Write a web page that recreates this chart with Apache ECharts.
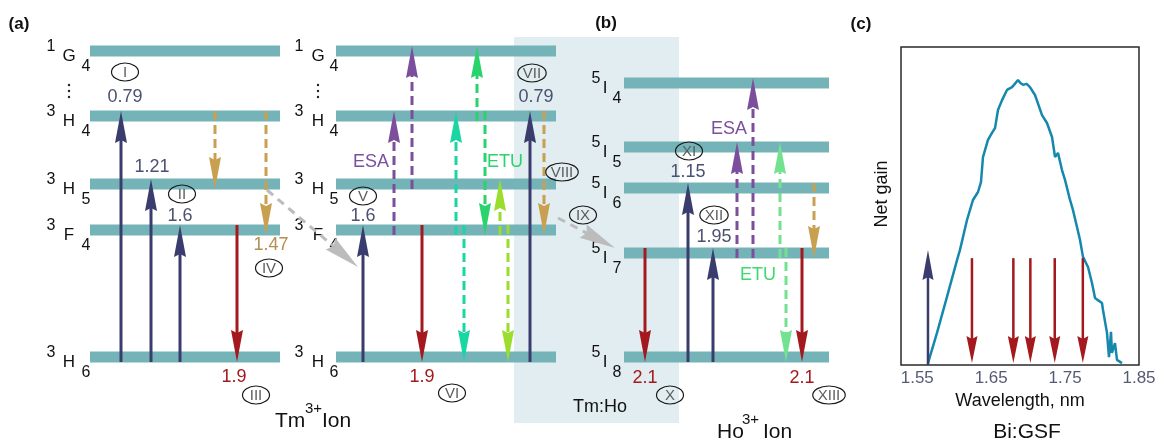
<!DOCTYPE html>
<html>
<head>
<meta charset="utf-8">
<script src="https://cdn.jsdelivr.net/npm/echarts@6/dist/echarts.min.js"></script>
<style>
  html, body { margin: 0; padding: 0; background: #ffffff; }
  #chart { width: 1164px; height: 442px; }
</style>
</head>
<body>
<div id="chart"></div>
<script>
// ---------------- Data ----------------
// Energy levels, schematic heights above the ground state (diagram units)
const tmTerms = ['3H6', '3F4', '3H5', '3H4', '1G4'];
const tmHeights = [0, 127, 173, 241, 306];
const hoTerms = ['5I8', '5I7', '5I6', '5I5', '5I4'];
const hoHeights = [0, 104, 169, 210, 274];

// Transitions: [slot on the diagram axis, ion, from level, to level, process]
const transitions = [
  [121, 'Tm', '3H6', '3H4', 'pump'],
  [151, 'Tm', '3H6', '3H5', 'pump'],
  [180, 'Tm', '3H6', '3F4', 'pump'],
  [215, 'Tm', '3H4', '3H5', 'relax'],
  [237, 'Tm', '3F4', '3H6', 'emit'],
  [266, 'Tm', '3H4', '3F4', 'relax'],
  [363, 'Tm', '3H6', '3F4', 'pump'],
  [394, 'Tm', '3F4', '3H4', 'esa'],
  [412, 'Tm', '3H5', '1G4', 'esa'],
  [422, 'Tm', '3F4', '3H6', 'emit'],
  [456, 'Tm', '3F4', '3H4', 'etuA'],
  [464, 'Tm', '3F4', '3H6', 'etuA'],
  [477, 'Tm', '3H4', '1G4', 'etuB'],
  [485, 'Tm', '3H4', '3F4', 'etuB'],
  [500, 'Tm', '3F4', '3H5', 'etuC'],
  [508, 'Tm', '3F4', '3H6', 'etuC'],
  [530, 'Tm', '3H6', '3H4', 'pump'],
  [544, 'Tm', '3H4', '3F4', 'relax'],
  [645, 'Ho', '5I7', '5I8', 'emit'],
  [688, 'Ho', '5I8', '5I6', 'pump'],
  [713, 'Ho', '5I8', '5I7', 'pump'],
  [737, 'Ho', '5I7', '5I5', 'esa'],
  [753, 'Ho', '5I7', '5I4', 'esa'],
  [780, 'Ho', '5I7', '5I5', 'etuHo'],
  [786, 'Ho', '5I7', '5I8', 'etuHo'],
  [802, 'Ho', '5I7', '5I8', 'emit'],
  [814, 'Ho', '5I6', '5I7', 'relax']
];

// Energy transfer between ions: [x start, height start, x end, height end]
const transfers = [
  [267, 167, 358, 90],
  [558, 139, 615, 109]
];

// Transition wavelengths (µm): [x, height, text, process]
const wavelengthNotes = [
  [125, 260, '0.79', 'pump'],
  [152, 190, '1.21', 'pump'],
  [180, 141, '1.6', 'pump'],
  [234, -20, '1.9', 'emit'],
  [271, 112, '1.47', 'relax'],
  [363, 141, '1.6', 'pump'],
  [422, -20, '1.9', 'emit'],
  [536, 260, '0.79', 'pump'],
  [645, -21, '2.1', 'emit'],
  [688, 185, '1.15', 'pump'],
  [714, 120, '1.95', 'pump'],
  [802, -21, '2.1', 'emit']
];

// Process names: [x, height, text, process]
const processNotes = [
  [371, 195, 'ESA', 'esa'],
  [505, 195, 'ETU', 'etuB'],
  [729, 228, 'ESA', 'esa'],
  [758, 82, 'ETU', 'etuHoText'],
  [600, -50, 'Tm:Ho', 'plain']
];

// Step numbers: [x, height, numeral]
const stepMarks = [
  [125, 285, 'I'], [182, 163, 'II'], [256, -38, 'III'], [269, 89, 'IV'],
  [363, 161, 'V'], [452, -36, 'VI'], [532, 284, 'VII'], [562, 185, 'VIII'],
  [583, 142, 'IX'], [670, -38, 'X'], [689, 206, 'XI'], [714, 142, 'XII'],
  [829, -38, 'XIII']
];

// Bi:GSF net gain spectrum
const gainWavelength = [1.5645, 1.5767, 1.5902, 1.6038, 1.6078, 1.6173, 1.6254, 1.6322, 1.6362, 1.6389,
  1.6457, 1.6511, 1.6552, 1.6592, 1.6647, 1.6714, 1.6782, 1.6820, 1.6863, 1.6900, 1.6931, 1.6980, 1.7025,
  1.7093, 1.7188, 1.7255, 1.7323, 1.7364, 1.7404, 1.7458, 1.7499, 1.7567, 1.7607, 1.7661, 1.7702,
  1.7742, 1.7810, 1.7864, 1.7905, 1.7945, 1.7999, 1.8013, 1.8067, 1.8094, 1.8121, 1.8134, 1.8175,
  1.8202, 1.8270];
const gainValue = [0.006, 0.101, 0.214, 0.330, 0.362, 0.456, 0.519, 0.544, 0.575, 0.654,
  0.708, 0.730, 0.745, 0.802, 0.833, 0.865, 0.874, 0.884, 0.896, 0.886, 0.881, 0.884, 0.874,
  0.849, 0.786, 0.761, 0.717, 0.654, 0.667, 0.613, 0.582, 0.519, 0.487, 0.434, 0.393,
  0.340, 0.308, 0.258, 0.211, 0.204, 0.195, 0.173, 0.101, 0.025, 0.104, 0.038, 0.069,
  0.016, 0.006];
const wavelengthTicks = [1.55, 1.65, 1.75, 1.85];
// Pump and signal lines on the spectrum: wavelength and arrow height (gain units)
const pumpLines = [1.5645];
const pumpTop = [0.362];
const signalLines = [1.624, 1.680, 1.703, 1.736, 1.774];
const signalTop = [0.336, 0.336, 0.336, 0.336, 0.336];

// ---------------- Layout & style ----------------
const FONT = '"Liberation Sans", Arial, Helvetica, sans-serif';
const BAR_H = 11;
const BAR_COLOR = '#74b3b7';
const levelColumns = [['Tm', 90, 280], ['Tm', 336, 556], ['Ho', 624, 829]];
const termLabelDx = [[-39, -21, -4], [-37, -18, -2], [-28, -19, -7]];
const shadeBox = [514, 679, 320, -66];

const procColor = {
  pump: '#3a3c6d',
  emit: '#a3191d',
  relax: '#c9a04f',
  esa: '#7c4f9d',
  etuA: '#1ad6a3',
  etuB: '#28d46b',
  etuC: '#9bdd2d',
  etuHo: '#72e28f',
  etuHoText: '#3ed970',
  plain: '#111111'
};
const noteColor = { pump: '#4b5170', emit: '#a3191d', relax: '#b48f4f' };
const dashedProc = { relax: 1, esa: 1, etuA: 1, etuB: 1, etuC: 1, etuHo: 1 };

function heightOf(ion, term) {
  const terms = ion === 'Tm' ? tmTerms : hoTerms;
  const hs = ion === 'Tm' ? tmHeights : hoHeights;
  return hs[terms.indexOf(term)];
}

const levelRows = [];
levelColumns.forEach(function (col, ci) {
  const terms = col[0] === 'Tm' ? tmTerms : hoTerms;
  terms.forEach(function (t) {
    levelRows.push({ col: ci, term: t, x0: col[1], x1: col[2], h: heightOf(col[0], t) });
  });
});

const measureCtx = document.createElement('canvas').getContext('2d');
function textWidth(t, font) { measureCtx.font = font; return measureCtx.measureText(t).width; }

function arrowParts(p0, p1, color, o) {
  const dx = p1[0] - p0[0], dy = p1[1] - p0[1];
  const len = Math.hypot(dx, dy);
  const ux = dx / len, uy = dy / len, nx = -uy, ny = ux;
  const hl = Math.min(o.headLen, len * 0.85), hw = o.headW / 2;
  const bx = p1[0] - ux * hl, by = p1[1] - uy * hl;
  const mx = p1[0] - ux * (hl - o.notch), my = p1[1] - uy * (hl - o.notch);
  const lineStyle = { stroke: color, lineWidth: o.width, fill: null };
  if (o.dash) lineStyle.lineDash = o.dash;
  return [
    { type: 'line', shape: { x1: p0[0], y1: p0[1], x2: mx, y2: my }, style: lineStyle },
    { type: 'polygon', shape: { points: [[p1[0], p1[1]], [bx + nx * hw, by + ny * hw], [mx, my], [bx - nx * hw, by - ny * hw]] },
      style: { fill: color } }
  ];
}

// ---------------- Render functions ----------------
function renderShade(params, api) {
  const a = api.coord([api.value(0), api.value(2)]);
  const b = api.coord([api.value(1), api.value(3)]);
  return { type: 'rect', shape: { x: a[0], y: a[1], width: b[0] - a[0], height: b[1] - a[1] }, style: { fill: '#e1edf0' } };
}

function renderLevel(params, api) {
  const r = levelRows[params.dataIndex];
  const a = api.coord([api.value(0), api.value(2)]);
  const b = api.coord([api.value(1), api.value(2)]);
  const L = a[0], c = a[1];
  const dx = termLabelDx[r.col];
  const kids = [
    { type: 'rect', shape: { x: L, y: c - BAR_H / 2, width: b[0] - L, height: BAR_H }, style: { fill: BAR_COLOR } },
    { type: 'text', style: { text: r.term[0], x: L + dx[0], y: c - 4, align: 'center', verticalAlign: 'middle', font: '16px ' + FONT, fill: '#111' } },
    { type: 'text', style: { text: r.term[1], x: L + dx[1], y: c + 5, align: 'center', verticalAlign: 'middle', font: '17px ' + FONT, fill: '#111' } },
    { type: 'text', style: { text: r.term.slice(2), x: L + dx[2], y: c + 16, align: 'center', verticalAlign: 'middle', font: '16px ' + FONT, fill: '#111' } }
  ];
  if (r.term === '1G4') {
    [34, 40, 46].forEach(function (off) {
      kids.push({ type: 'circle', shape: { cx: L + dx[1], cy: c + off, r: 1.2 }, style: { fill: '#222' } });
    });
  }
  return { type: 'group', children: kids };
}

function renderTransition(params, api) {
  const t = transitions[params.dataIndex];
  const x = api.value(0), h0 = api.value(1), h1 = api.value(2);
  const up = h1 > h0;
  const p0 = api.coord([x, h0]);
  const p1 = api.coord([x, h1]);
  p0[1] += up ? 5 : -5;
  p1[1] += up ? -5 : 5;
  const proc = t[4];
  return {
    type: 'group',
    children: arrowParts(p0, p1, procColor[proc], {
      width: 3, headLen: 32, headW: 12, notch: 3, dash: dashedProc[proc] ? [9, 5] : null
    })
  };
}

function renderTransfer(params, api) {
  const p0 = api.coord([api.value(0), api.value(1)]);
  const p1 = api.coord([api.value(2), api.value(3)]);
  return { type: 'group', children: arrowParts(p0, p1, '#bcbcbc', { width: 3, headLen: 36, headW: 15, notch: 4, dash: [8, 6] }) };
}

function renderWavelengthNote(params, api) {
  const n = wavelengthNotes[params.dataIndex];
  const p = api.coord([api.value(0), api.value(1)]);
  return { type: 'text', style: { text: n[2], x: p[0], y: p[1], align: 'center', verticalAlign: 'middle', font: '18px ' + FONT, fill: noteColor[n[3]] } };
}

function renderProcessNote(params, api) {
  const n = processNotes[params.dataIndex];
  const p = api.coord([api.value(0), api.value(1)]);
  return { type: 'text', style: { text: n[2], x: p[0], y: p[1], align: 'center', verticalAlign: 'middle', font: '18px ' + FONT, fill: procColor[n[3]] } };
}

const ROMAN_FONT = '15px ' + FONT;
function renderStep(params, api) {
  const s = stepMarks[params.dataIndex];
  const p = api.coord([api.value(0), api.value(1)]);
  const rx = Math.max(13.5, textWidth(s[2], ROMAN_FONT) / 2 + 5);
  return {
    type: 'group',
    children: [
      { type: 'ellipse', shape: { cx: p[0], cy: p[1], rx: rx, ry: 9 }, style: { fill: 'none', stroke: '#1a1a1a', lineWidth: 1.2 } },
      { type: 'text', style: { text: s[2], x: p[0], y: p[1] + 0.5, align: 'center', verticalAlign: 'middle', font: ROMAN_FONT, fill: '#5c5c5c' } }
    ]
  };
}

function renderSpectrumArrow(params, api) {
  const lam = api.value(0), top = api.value(1), kind = api.value(2);
  const pb = api.coord([lam, 0]);
  const pt = api.coord([lam, top]);
  if (kind === 0) {
    return { type: 'group', children: arrowParts(pb, pt, '#3a3c6d', { width: 2.5, headLen: 30, headW: 11, notch: 3 }) };
  }
  const tip = [pb[0], pb[1] - 2];
  return { type: 'group', children: arrowParts(pt, tip, '#a3191d', { width: 2.5, headLen: 27, headW: 11, notch: 3 }) };
}

// ---------------- Chart ----------------
const chart = echarts.init(document.getElementById('chart'), null, { renderer: 'canvas' });

const diagramAxes = { xAxisIndex: 0, yAxisIndex: 0, coordinateSystem: 'cartesian2d', clip: false, silent: true };
function customSeries(extra) { return Object.assign({ type: 'custom' }, diagramAxes, extra); }

const spectrumArrows = pumpLines.map(function (l, i) { return [l, pumpTop[i], 0]; })
  .concat(signalLines.map(function (l, i) { return [l, signalTop[i], 1]; }));

const option = {
  animation: false,
  backgroundColor: '#ffffff',
  grid: [
    { left: 0, right: 0, top: 51, bottom: 85, show: false, containLabel: false, outerBoundsMode: 'none' },
    { left: 901, width: 238, top: 47, height: 318, show: true, borderColor: '#2a2a2a', borderWidth: 1.5,
      backgroundColor: 'transparent', containLabel: false, outerBoundsMode: 'none' }
  ],
  xAxis: [
    { gridIndex: 0, type: 'value', min: 0, max: 1164, show: false },
    { gridIndex: 1, type: 'value', min: 1.528, max: 1.85,
      axisLine: { show: false }, axisTick: { show: false }, splitLine: { show: false },
      axisLabel: { customValues: wavelengthTicks, formatter: function (v) { return v.toFixed(2); },
        color: '#555b75', fontSize: 17, fontFamily: FONT, margin: 5, showMinLabel: true, showMaxLabel: true },
      name: 'Wavelength, nm', nameLocation: 'middle', nameGap: 25,
      nameTextStyle: { fontSize: 18, color: '#111', fontFamily: FONT } }
  ],
  yAxis: [
    { gridIndex: 0, type: 'value', min: 0, max: 306, show: false },
    { gridIndex: 1, type: 'value', min: 0, max: 1,
      axisLine: { show: false }, axisTick: { show: false }, axisLabel: { show: false }, splitLine: { show: false } }
  ],
  graphic: [
    { type: 'text', x: 19, y: 24, style: { text: '(a)', align: 'center', verticalAlign: 'middle', font: 'bold 17px ' + FONT, fill: '#111' } },
    { type: 'text', x: 606, y: 23, style: { text: '(b)', align: 'center', verticalAlign: 'middle', font: 'bold 17px ' + FONT, fill: '#111' } },
    { type: 'text', x: 861, y: 24, style: { text: '(c)', align: 'center', verticalAlign: 'middle', font: 'bold 17px ' + FONT, fill: '#111' } },
    { type: 'text', x: 275, y: 421, style: { text: 'Tm', align: 'left', verticalAlign: 'middle', font: '21px ' + FONT, fill: '#111' } },
    { type: 'text', x: 305, y: 409, style: { text: '3+', align: 'left', verticalAlign: 'middle', font: '15px ' + FONT, fill: '#111' } },
    { type: 'text', x: 322, y: 421, style: { text: 'Ion', align: 'left', verticalAlign: 'middle', font: '21px ' + FONT, fill: '#111' } },
    { type: 'text', x: 717, y: 432, style: { text: 'Ho', align: 'left', verticalAlign: 'middle', font: '21px ' + FONT, fill: '#111' } },
    { type: 'text', x: 742, y: 420, style: { text: '3+', align: 'left', verticalAlign: 'middle', font: '15px ' + FONT, fill: '#111' } },
    { type: 'text', x: 763, y: 432, style: { text: 'Ion', align: 'left', verticalAlign: 'middle', font: '21px ' + FONT, fill: '#111' } },
    { type: 'text', x: 1027, y: 432, style: { text: 'Bi:GSF', align: 'center', verticalAlign: 'middle', font: '21px ' + FONT, fill: '#111' } },
    { type: 'text', x: 882, y: 194, rotation: Math.PI / 2, style: { text: 'Net gain', align: 'center', verticalAlign: 'middle', font: '18px ' + FONT, fill: '#111' } }
  ],
  series: [
    customSeries({ z: 0, renderItem: renderShade, data: [shadeBox] }),
    customSeries({ z: 1, renderItem: renderLevel, data: levelRows.map(function (r) { return [r.x0, r.x1, r.h]; }) }),
    customSeries({ z: 3, renderItem: renderTransfer, data: transfers }),
    customSeries({ z: 4, renderItem: renderTransition,
      data: transitions.map(function (t) { return [t[0], heightOf(t[1], t[2]), heightOf(t[1], t[3])]; }) }),
    customSeries({ z: 5, renderItem: renderWavelengthNote, data: wavelengthNotes.map(function (n) { return [n[0], n[1]]; }) }),
    customSeries({ z: 5, renderItem: renderProcessNote, data: processNotes.map(function (n) { return [n[0], n[1]]; }) }),
    customSeries({ z: 5, renderItem: renderStep, data: stepMarks.map(function (s) { return [s[0], s[1]]; }) }),
    { type: 'line', xAxisIndex: 1, yAxisIndex: 1, showSymbol: false, silent: true, z: 2,
      lineStyle: { color: '#1688ae', width: 2.5 },
      data: gainWavelength.map(function (w, i) { return [w, gainValue[i]]; }) },
    { type: 'custom', xAxisIndex: 1, yAxisIndex: 1, coordinateSystem: 'cartesian2d', clip: false, silent: true, z: 3,
      renderItem: renderSpectrumArrow, data: spectrumArrows }
  ]
};

chart.setOption(option);
</script>
</body>
</html>
